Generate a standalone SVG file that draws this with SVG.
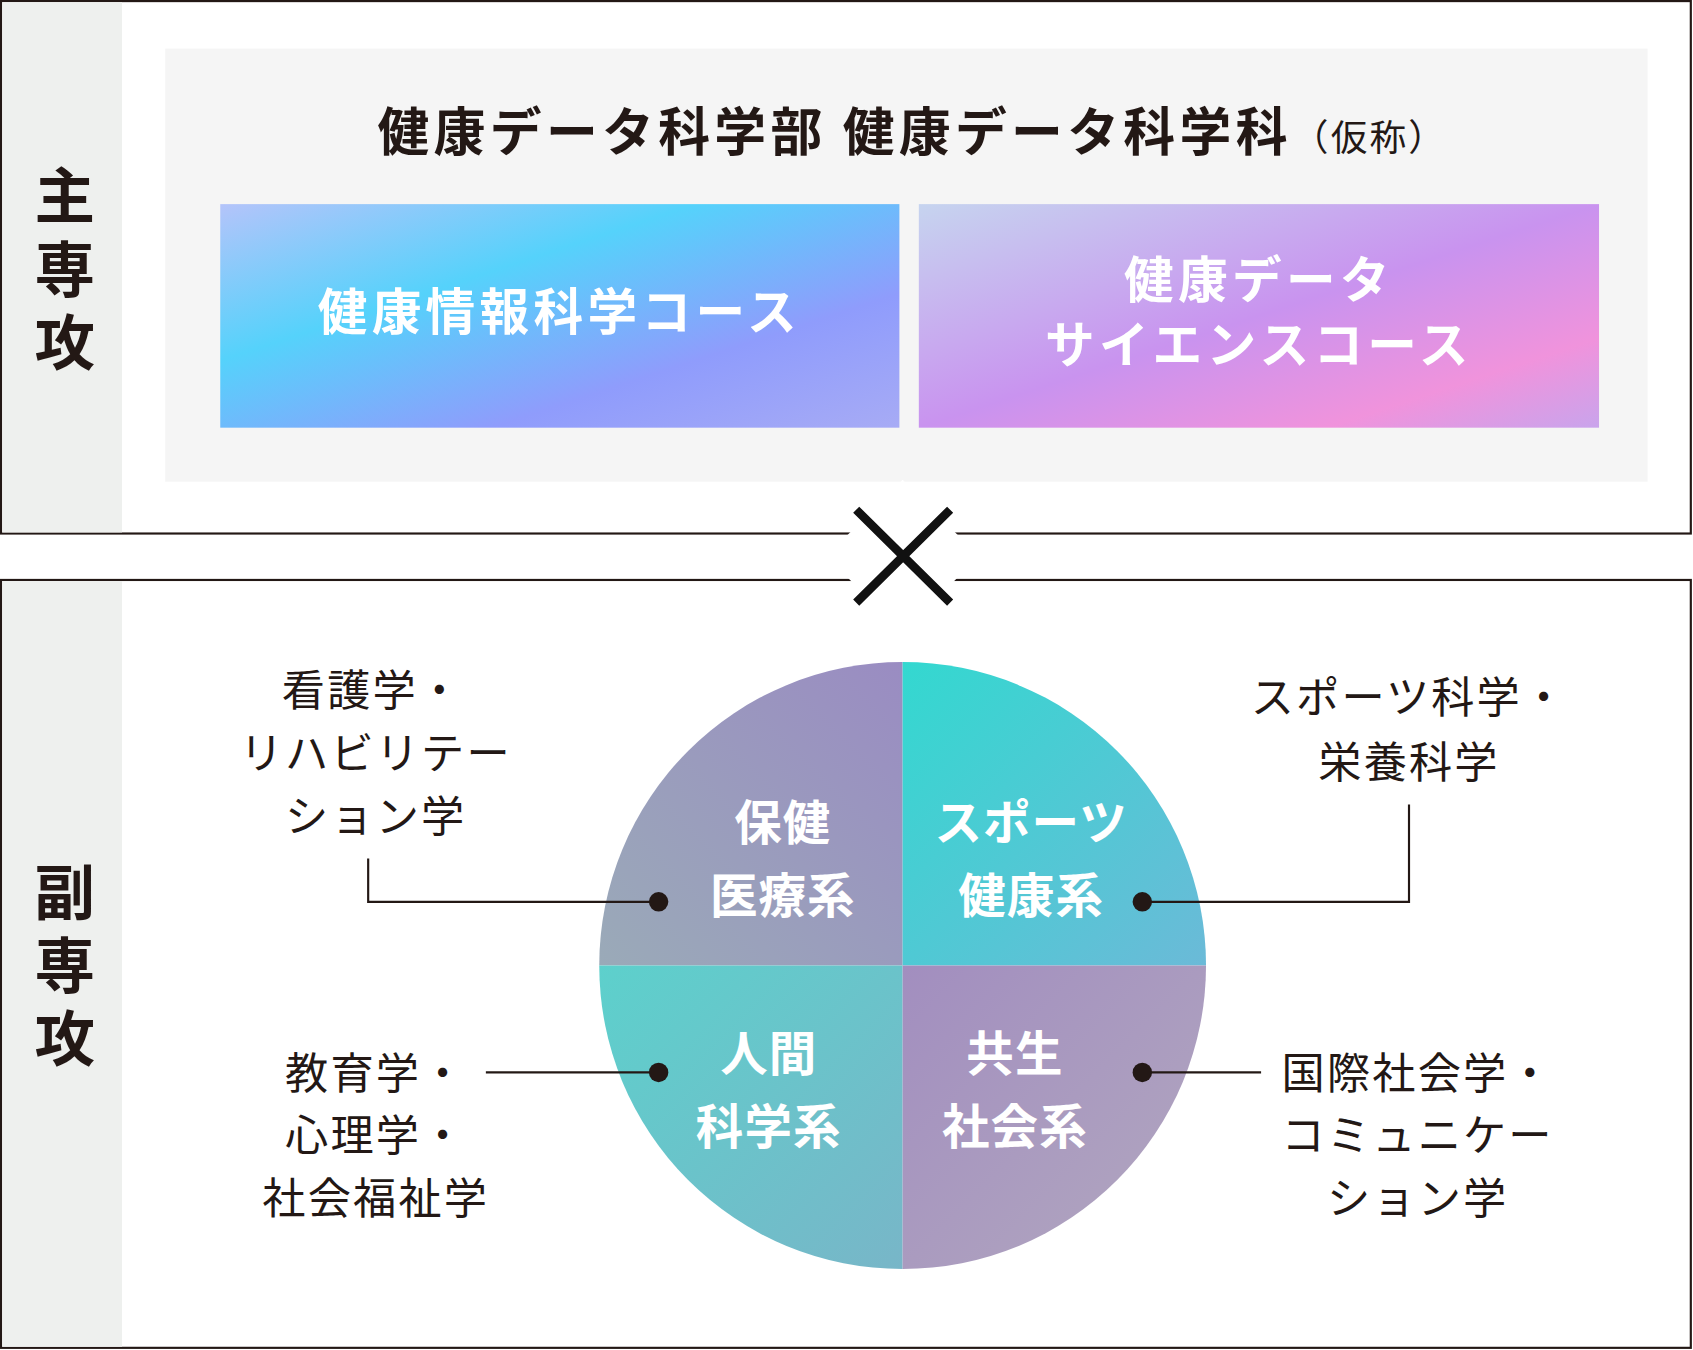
<svg xmlns="http://www.w3.org/2000/svg" width="1693" height="1350" viewBox="0 0 1693 1350">
<style>
text{font-family:"Noto Sans CJK JP","Noto Sans",sans-serif;text-anchor:middle}
.side{font-size:56px;font-weight:700;fill:#231815}
.q{font-size:44px;font-weight:700;fill:#fff;letter-spacing:1px}
.lab{font-size:40px;fill:#231815;letter-spacing:2px}
.cw{font-size:46px;font-weight:700;fill:#fff;letter-spacing:4px}
.frame{fill:#fff;stroke:#231815;stroke-width:2}
.cn{fill:none;stroke:#231815;stroke-width:2}
</style>
<defs>
<linearGradient id="gb" x1="0" y1="0" x2="1" y2="1"><stop offset="0" stop-color="#b4c4fa"/><stop offset="0.35" stop-color="#55d2fb"/><stop offset="0.7" stop-color="#8f9cfc"/><stop offset="1" stop-color="#a7abf5"/></linearGradient>
<linearGradient id="gp" x1="0" y1="0" x2="1" y2="1"><stop offset="0" stop-color="#c6d4ef"/><stop offset="0.5" stop-color="#c993ef"/><stop offset="0.8" stop-color="#f093dc"/><stop offset="1" stop-color="#c9a4ec"/></linearGradient>
<linearGradient id="q1" x1="0" y1="1" x2="1" y2="0"><stop offset="0" stop-color="#9aaab8"/><stop offset="1" stop-color="#9a8cc2"/></linearGradient>
<linearGradient id="q2" x1="0" y1="0" x2="1" y2="1"><stop offset="0" stop-color="#33d8d0"/><stop offset="1" stop-color="#6bbad8"/></linearGradient>
<linearGradient id="q3" x1="0" y1="0" x2="1" y2="1"><stop offset="0" stop-color="#5dd0cc"/><stop offset="1" stop-color="#78b6c8"/></linearGradient>
<linearGradient id="q4" x1="0" y1="0" x2="1" y2="1"><stop offset="0" stop-color="#a28ebf"/><stop offset="1" stop-color="#b2a8bf"/></linearGradient>
</defs>
<g transform="scale(1.0797 1.08)">
<g id="main">
<rect class="frame" x="1" y="1" width="1565" height="493"/>
<rect x="2" y="2" width="111" height="491" fill="#eef0ee"/>
<text class="side" x="60" y="202">主</text><text class="side" x="60" y="270">専</text><text class="side" x="60" y="338">攻</text>
<rect x="153" y="45" width="1373" height="401" fill="#f5f5f5"/>
<text x="845" y="140" font-size="48" font-weight="700" fill="#231815" letter-spacing="4">健康データ科学部  健康データ科学科<tspan font-size="34" font-weight="400" letter-spacing="2">（仮称）</tspan></text>
</g>
<g id="course1"><rect x="204" y="189" width="629" height="207" fill="url(#gb)"/>
<text class="cw" x="518" y="306">健康情報科学コース</text></g>
<g id="course2"><rect x="851" y="189" width="630" height="207" fill="url(#gp)"/>
<text class="cw" x="1166" y="276">健康データ</text>
<text class="cw" x="1166" y="336">サイエンスコース</text></g>
<g id="sub">
<rect class="frame" x="1" y="537" width="1565" height="711"/>
<rect x="2" y="538" width="111" height="709" fill="#eef0ee"/>
<text class="side" x="60" y="847">副</text><text class="side" x="60" y="915">専</text><text class="side" x="60" y="982">攻</text>
</g>
<g id="cross">
<rect x="786" y="465" width="100" height="100" fill="#fff" transform="rotate(45 836 515)"/>
<path d="M793 472L880 558M880 472L793 558" stroke="#111" stroke-width="8"/>
</g>
<g id="circle">
<path d="M836 894V613A281 281 0 0 0 555 894Z" fill="url(#q1)"/>
<path d="M836 894V613A281 281 0 0 1 1117 894Z" fill="url(#q2)"/>
<path d="M836 894H555A281 281 0 0 0 836 1175Z" fill="url(#q3)"/>
<path d="M836 894H1117A281 281 0 0 1 836 1175Z" fill="url(#q4)"/>
<text class="q" x="725" y="778">保健</text><text class="q" x="725" y="845">医療系</text>
<text class="q" x="955" y="778">スポーツ</text><text class="q" x="955" y="845">健康系</text>
<text class="q" x="712" y="992">人間</text><text class="q" x="712" y="1059">科学系</text>
<text class="q" x="940" y="992">共生</text><text class="q" x="940" y="1059">社会系</text>
</g>
<g id="connectors">
<path class="cn" d="M610 835H341V795"/><path class="cn" d="M1058 835H1305V745"/>
<path class="cn" d="M610 993H450"/><path class="cn" d="M1058 993H1168"/>
<circle cx="610" cy="835" r="9" fill="#231815"/><circle cx="1058" cy="835" r="9" fill="#231815"/>
<circle cx="610" cy="993" r="9" fill="#231815"/><circle cx="1058" cy="993" r="9" fill="#231815"/>
</g>
<g id="labels">
<text class="lab" x="345" y="654">看護学・</text><text class="lab" x="348" y="712">リハビリテー</text><text class="lab" x="348" y="770">ション学</text>
<text class="lab" x="1305" y="660">スポーツ科学・</text><text class="lab" x="1305" y="720">栄養科学</text>
<text class="lab" x="348" y="1008">教育学・</text><text class="lab" x="348" y="1066">心理学・</text><text class="lab" x="348" y="1124">社会福祉学</text>
<text class="lab" x="1313" y="1008">国際社会学・</text><text class="lab" x="1313" y="1066">コミュニケー</text><text class="lab" x="1313" y="1124">ション学</text>
</g>
</g>
</svg>
